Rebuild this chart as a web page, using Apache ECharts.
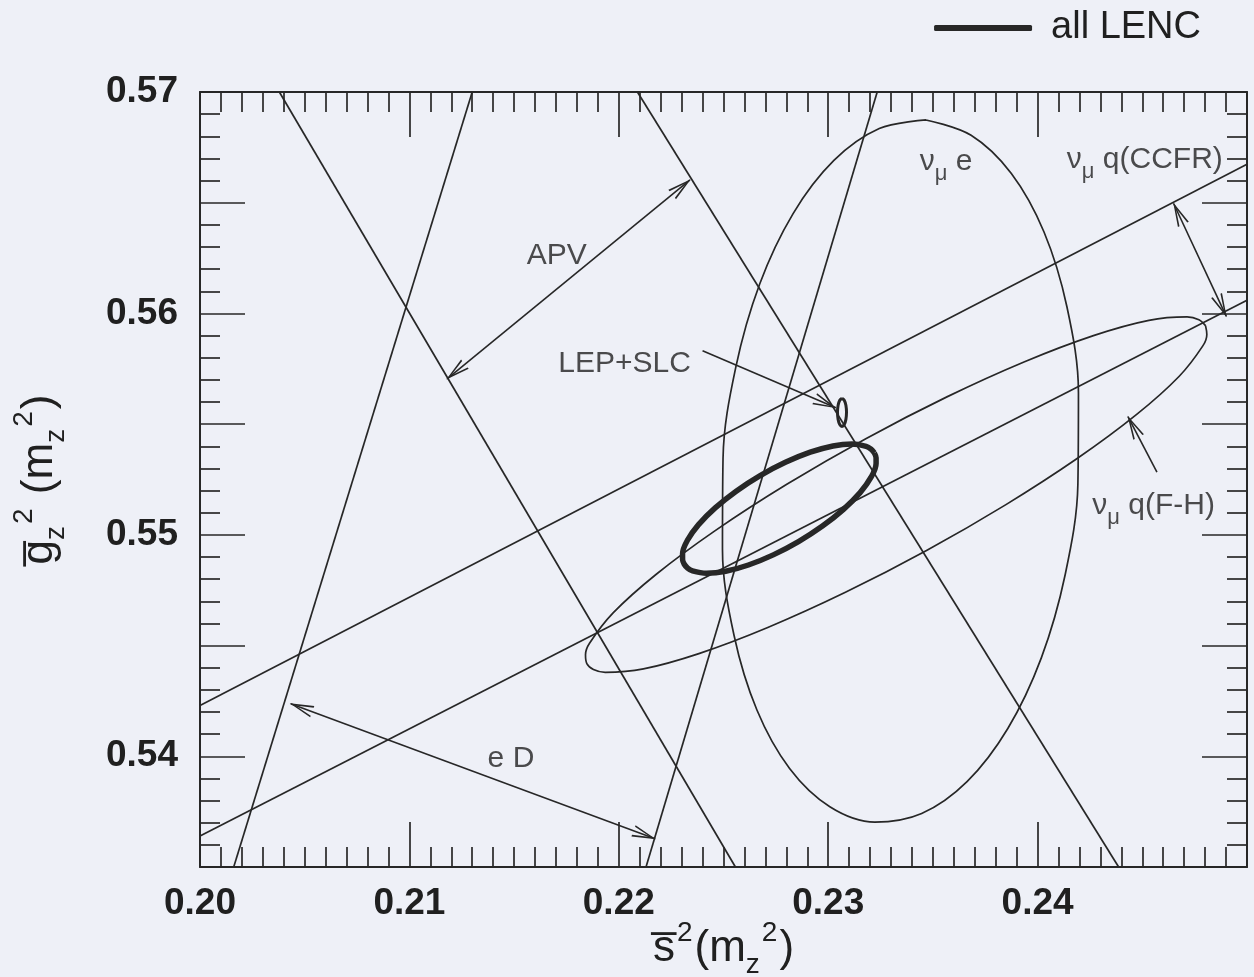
<!DOCTYPE html>
<html><head><meta charset="utf-8">
<script src="https://cdn.jsdelivr.net/npm/echarts@6/dist/echarts.min.js"></script>
<style>html,body{margin:0;padding:0;background:#eef0f7}#c{width:1254px;height:977px}</style>
</head><body><div id="c"></div>
<script>
// ---- axis ranges and tick labels ----
const xRange = [0.20, 0.25];
const yRange = [0.535, 0.57];
const xLabelValues = [0.20, 0.21, 0.22, 0.23, 0.24];
const yLabelValues = [0.54, 0.55, 0.56, 0.57];

// ---- straight band edges [x, y] ----
const apvLeft   = [[0.20379, 0.570], [0.22557, 0.535]];
const apvRight  = [[0.22089, 0.570], [0.24387, 0.535]];
const eDLeft    = [[0.20161, 0.535], [0.21300, 0.570]];
const eDRight   = [[0.22130, 0.535], [0.23234, 0.570]];
const ccfrUpper = [[0.20, 0.54229], [0.25, 0.56674]];
const ccfrLower = [[0.20, 0.53640], [0.25, 0.56060]];

// ---- contours [x, y] ----
const fhContour = [[0.248019,0.559448],[0.248082,0.559053],[0.247890,0.558534],[0.246764,0.557163],[0.244717,0.555427],[0.241888,0.553446],[0.238469,0.551354],[0.234696,0.549293],[0.230823,0.547404],[0.227114,0.545816],[0.223825,0.544637],[0.221178,0.543947],[0.219352,0.543794],[0.218788,0.543923],[0.218473,0.544188],[0.218410,0.544583],[0.218602,0.545102],[0.219728,0.546473],[0.221775,0.548209],[0.224604,0.550190],[0.228023,0.552282],[0.231796,0.554344],[0.235669,0.556232],[0.239378,0.557820],[0.242667,0.558999],[0.245314,0.559689],[0.247140,0.559842],[0.247704,0.559713],[0.248019,0.559448]];
const numueContour = [[0.234673,0.568737],[0.236824,0.568044],[0.238746,0.566318],[0.240306,0.563677],[0.241400,0.560300],[0.241951,0.556417],[0.241924,0.552294],[0.241319,0.548211],[0.240178,0.544446],[0.238578,0.541257],[0.236630,0.538858],[0.234464,0.537418],[0.232229,0.537029],[0.230078,0.537722],[0.228156,0.539448],[0.226596,0.542089],[0.225502,0.545466],[0.224951,0.549349],[0.224978,0.553472],[0.225583,0.557555],[0.226724,0.561320],[0.228324,0.564509],[0.230272,0.566908],[0.232438,0.568348],[0.234673,0.568737]];
const lencContour = [[0.232205,0.553698],[0.232286,0.553482],[0.232287,0.553226],[0.232055,0.552616],[0.231524,0.551908],[0.230729,0.551152],[0.229726,0.550396],[0.228582,0.549695],[0.227376,0.549096],[0.226189,0.548638],[0.225104,0.548354],[0.224193,0.548264],[0.223519,0.548372],[0.223286,0.548500],[0.223127,0.548672],[0.223046,0.548888],[0.223045,0.549144],[0.223277,0.549754],[0.223808,0.550462],[0.224603,0.551218],[0.225606,0.551974],[0.226750,0.552675],[0.227956,0.553274],[0.229143,0.553732],[0.230228,0.554016],[0.231139,0.554106],[0.231813,0.553998],[0.232046,0.553870],[0.232205,0.553698]];
const lepslcContour = [[0.230659,0.556166],[0.230767,0.556081],[0.230845,0.555849],[0.230874,0.555532],[0.230845,0.555215],[0.230767,0.554983],[0.230659,0.554898],[0.230551,0.554983],[0.230473,0.555215],[0.230444,0.555532],[0.230473,0.555849],[0.230551,0.556081],[0.230659,0.556166]];

// ---- arrows ----
const arrowFrom = [[0.2118,0.557049],[0.204329,0.542377],[0.246496,0.564964],[0.224000,0.558317],[0.245699,0.552837]];
const arrowTo   = [[0.2234,0.566029],[0.221733,0.536272],[0.249012,0.559870],[0.230367,0.555736],[0.244315,0.555342]];
const arrowBoth = [true, true, true, false, false];

// ---- text annotations ----
const labelText = ['APV', 'LEP+SLC', 'e D', '{n|ν}{s|μ}{n| e}', '{n|ν}{s|μ}{n| q(CCFR)}', '{n|ν}{s|μ}{n| q(F-H)}'];
const labelX = [0.21704, 0.22028, 0.21485, 0.23563, 0.24512, 0.24554];
const labelY = [0.56262, 0.55773, 0.53989, 0.56683, 0.56692, 0.55130];

const INK = '#272727';
const TXT = '#202020';
const FONT = "'Liberation Sans', Arial, Helvetica, sans-serif";
const arrowPath = 'path://M0,0L-7,20L-5,20L0,5L5,20L7,20Z';

function near(v, list){ return list.some(t => Math.abs(t - v) < 1e-6); }

function thinLine(name, data){
  return {name, type:'line', data, showSymbol:false, silent:true, animation:false,
    lineStyle:{color:INK, width:1.7}, z:3};
}
function contour(name, data, width, smooth){
  return {name, type:'line', data, showSymbol:false, silent:true, animation:false, smooth:smooth,
    color:INK, itemStyle:{color:INK}, lineStyle:{color:INK, width}, z: width>2?6:3};
}

const arrowLines = arrowFrom.map((f,i)=>[
  {coord:f, symbol: arrowBoth[i] ? arrowPath : 'none', symbolSize:[12,24], symbolOffset:[0,11]},
  {coord:arrowTo[i], symbol: arrowPath, symbolSize:[12,24], symbolOffset:[0,11]}
]);

const axisCommon = {
  type:'value', min:xRange[0], max:xRange[1], interval:0.01,
  axisLine:{show:true, onZero:false, lineStyle:{color:INK, width:2}},
  axisTick:{show:true, inside:true, length:45, lineStyle:{color:INK, width:1.7}},
  minorTick:{show:true, splitNumber:10, length:20, lineStyle:{color:INK, width:1.7}},
  splitLine:{show:false}, minorSplitLine:{show:false}
};
const yCommon = {
  type:'value', min:yRange[0], max:yRange[1], interval:0.005,
  axisLine:{show:true, onZero:false, lineStyle:{color:INK, width:2}},
  axisTick:{show:true, inside:true, length:45, lineStyle:{color:INK, width:1.7}},
  minorTick:{show:true, splitNumber:5, length:20, lineStyle:{color:INK, width:1.7}},
  splitLine:{show:false}, minorSplitLine:{show:false}
};
const titleRich = {
  o:{fontSize:44, lineHeight:60, fontFamily:FONT, color:TXT},
  t:{fontSize:44, lineHeight:60, fontFamily:FONT, color:TXT},
  sup:{fontSize:28, verticalAlign:'top', fontFamily:FONT, color:TXT, padding:[0,2,0,2]},
  sub:{fontSize:28, verticalAlign:'bottom', fontFamily:FONT, color:TXT}
};

const chart = echarts.init(document.getElementById('c'), null, {renderer:'canvas'});
chart.setOption({
  backgroundColor:'#eef0f7',
  animation:false,
  grid:{left:200, right:7, top:92, bottom:110, containLabel:false, outerBoundsMode:'none'},
  legend:{
    right:48, top:4, itemWidth:98, itemHeight:6, icon:'roundRect',
    data:[{name:'all LENC'}],
    textStyle:{fontSize:38, color:TXT, fontFamily:FONT, padding:[0,0,0,14]}
  },
  xAxis:[
    Object.assign({}, axisCommon, {position:'bottom',
      axisLabel:{show:true, margin:18, fontSize:37, fontWeight:'bold', color:TXT, fontFamily:FONT,
        formatter:v => near(v, xLabelValues) ? v.toFixed(2) : ''},
      name:'{o|s\u0305}{sup|2}{t|(m}{sub|z}{sup|2}{t|)}', nameLocation:'middle', nameGap:52,
      nameMoveOverlap:false,
      nameTextStyle:{fontFamily:FONT, color:TXT, rich:titleRich}
    }),
    Object.assign({}, axisCommon, {position:'top', axisLabel:{show:false}})
  ],
  yAxis:[
    Object.assign({}, yCommon, {position:'left',
      axisLabel:{show:true, margin:22, fontSize:37, fontWeight:'bold', color:TXT, fontFamily:FONT,
        formatter:v => near(v, yLabelValues) ? v.toFixed(2) : ''},
      name:'{o|g\u0305}{sub|z}{sup|2}{t| (m}{sub|z}{sup|2}{t|)}', nameLocation:'middle', nameGap:130, nameRotate:90,
      nameMoveOverlap:false,
      nameTextStyle:{fontFamily:FONT, color:TXT, rich:titleRich}
    }),
    Object.assign({}, yCommon, {position:'right', axisLabel:{show:false}})
  ],
  series:[
    thinLine('APV left', apvLeft),
    thinLine('APV right', apvRight),
    thinLine('eD left', eDLeft),
    thinLine('eD right', eDRight),
    thinLine('CCFR upper', ccfrUpper),
    thinLine('CCFR lower', ccfrLower),
    contour('νμ q(F-H)', fhContour, 1.7, 0.35),
    contour('νμ e', numueContour, 1.7, 0.35),
    contour('all LENC', lencContour, 5.5, 0.35),
    contour('LEP+SLC', lepslcContour, 3, 0.35),
    {name:'arrows', type:'line', data:[], silent:true, animation:false,
      markLine:{silent:true, animation:false, label:{show:false},
        lineStyle:{color:INK, width:1.6, type:'solid'}, itemStyle:{color:INK},
        emphasis:{disabled:true}, data:arrowLines}},
    {name:'labels', type:'scatter', symbolSize:0, silent:true, animation:false, z:10,
      data:labelX.map((x,i)=>[x, labelY[i], labelText[i]]),
      label:{show:true, position:'inside', fontSize:30, color:TXT, fontFamily:FONT,
        formatter:p => p.data[2],
        rich:{
          n:{fontSize:30, lineHeight:46, color:TXT, fontFamily:FONT},
          s:{fontSize:22, verticalAlign:'bottom', color:TXT, fontFamily:FONT}
        }}}
  ]
});
</script></body></html>
